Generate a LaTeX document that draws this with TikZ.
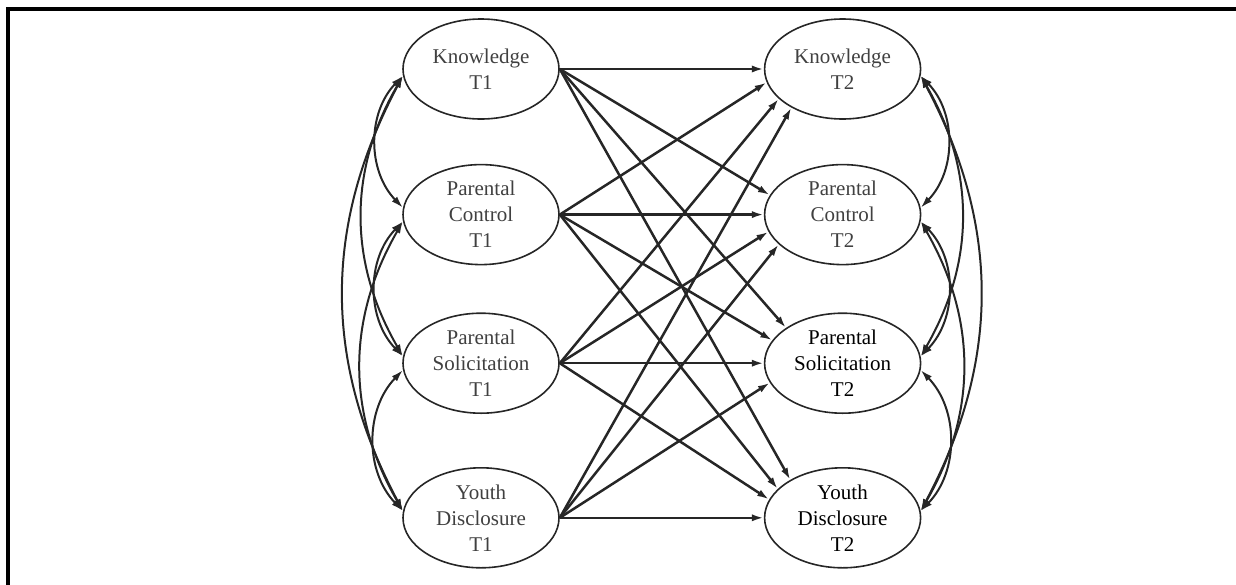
\documentclass[tikz,border=0pt]{standalone}
\usepackage{fontspec}
\setmainfont{Liberation Serif}
\usetikzlibrary{arrows.meta, positioning, shapes.geometric}

\begin{document}
\begin{tikzpicture}[
    x=0.5pt, y=-0.5pt,
    latent/.style={draw=black!85, line width=0.8pt, ellipse, minimum width=78pt, minimum height=50pt, inner sep=0pt, align=center, font=\fontsize{10.5}{13}\selectfont, text=black!75},
    strong/.style={text=black},
    effect/.style={-{Latex[length=6pt, width=3.6pt]}, line width=1.25pt, black!85},
    cov/.style={{Latex[length=6pt, width=3.6pt]}-{Latex[length=6pt, width=3.6pt]}, line width=1pt, black!85},
    frame/.style={line width=2pt, line cap=rect}
]
    \useasboundingbox (0,0) rectangle (1236,584);
    \draw[frame] (1236,9) -| (8,584);

    % Time 1 - left column
    \node[latent] (k1) at (481,69) {Knowledge\\T1};
    \node[latent, below=22pt of k1] (c1) {Parental\\Control\\T1};
    \node[latent, below=23.5pt of c1] (s1) {Parental\\Solicitation\\T1};
    \node[latent, below=26.5pt of s1] (y1) {Youth\\Disclosure\\T1};

    % Time 2 - right column
    \node[latent, right=102pt of k1] (k2) {Knowledge\\T2};
    \node[latent, right=102pt of c1] (c2) {Parental\\Control\\T2};
    \node[latent, strong, right=102pt of s1] (s2) {Parental\\Solicitation\\T2};
    \node[latent, strong, right=102pt of y1] (y2) {Youth\\Disclosure\\T2};

    % Cross-lagged paths
    \draw[effect] (k1.east) -- (k2.west);
    \draw[effect] (k1.east) -- (c2.165);
    \draw[effect] (k1.east) -- (s2.148);
    \draw[effect] (k1.east) -- (y2.144);

    \draw[effect] (c1.east) -- (k2.190);
    \draw[effect] (c1.east) -- (c2.west);
    \draw[effect] (c1.east) -- (s2.162);
    \draw[effect] (c1.east) -- (y2.156);

    \draw[effect] (s1.east) -- (k2.205);
    \draw[effect] (s1.east) -- (c2.193);
    \draw[effect] (s1.east) -- (s2.west);
    \draw[effect] (s1.east) -- (y2.166);

    \draw[effect] (y1.east) -- (k2.217);
    \draw[effect] (y1.east) -- (c2.205);
    \draw[effect] (y1.east) -- (s2.195);
    \draw[effect] (y1.east) -- (y2.west);

    % Covariances at T1
    \draw[cov] (k1.185) to[bend right=44] (c1.175);
    \draw[cov] (c1.185) to[bend right=44] (s1.175);
    \draw[cov] (s1.185) to[bend right=44] (y1.175);
    \draw[cov] (k1.185) to[bend right=30] (s1.175);
    \draw[cov] (c1.185) to[bend right=30] (y1.175);
    \draw[cov] (k1.185) to[bend right=28] (y1.175);

    % Covariances at T2
    \draw[cov] (k2.-5) to[bend left=44] (c2.5);
    \draw[cov] (c2.-5) to[bend left=44] (s2.5);
    \draw[cov] (s2.-5) to[bend left=44] (y2.5);
    \draw[cov] (k2.-5) to[bend left=30] (s2.5);
    \draw[cov] (c2.-5) to[bend left=30] (y2.5);
    \draw[cov] (k2.-5) to[bend left=28] (y2.5);
\end{tikzpicture}
\end{document}
